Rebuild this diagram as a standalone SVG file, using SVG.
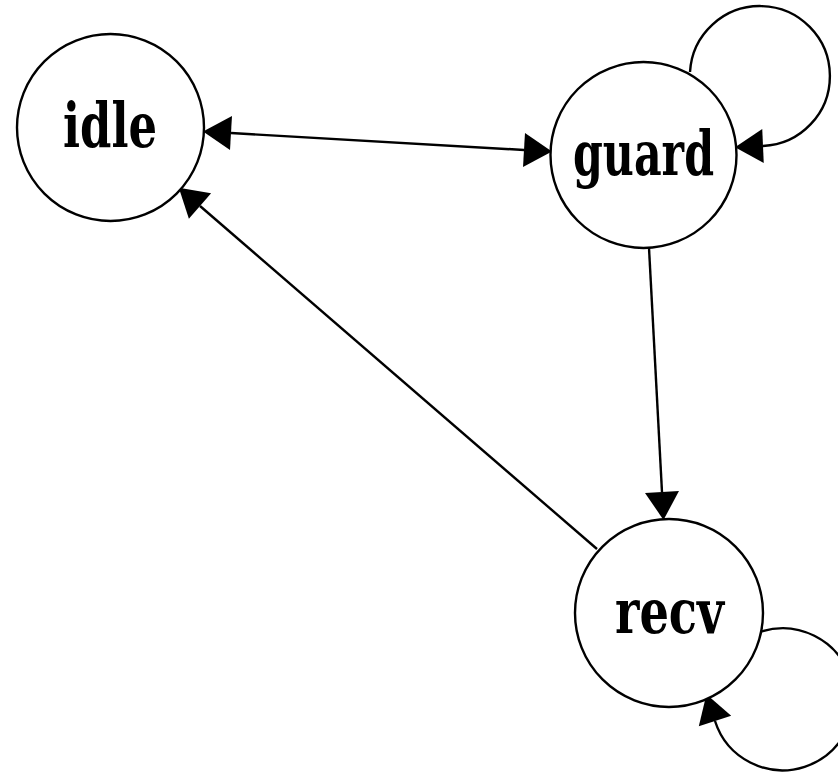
<svg xmlns="http://www.w3.org/2000/svg" width="838" height="772" viewBox="0 0 838 772">
  <style>
    .node circle { fill: #ffffff; stroke: #000000; stroke-width: 2.4; }
    .node text { font-family: "DejaVu Serif", "Liberation Serif", serif; font-weight: bold; font-stretch: condensed; font-size: 61px; fill: #000000; }
    .edge { fill: none; stroke: #000000; stroke-width: 2.4; }
  </style>
  <defs>
    <!-- filled triangular arrowhead; the base sits on the path end -->
    <marker id="head" markerUnits="userSpaceOnUse" viewBox="0 -17 28 34" markerWidth="28" markerHeight="34" refX="0" refY="0" orient="auto" overflow="visible">
      <path d="M0,-17 L28,0 L0,17 z" fill="#000000"/>
    </marker>
    <marker id="tail" markerUnits="userSpaceOnUse" viewBox="-28 -17 28 34" markerWidth="28" markerHeight="34" refX="0" refY="0" orient="auto" overflow="visible">
      <path d="M0,-17 L-28,0 L0,17 z" fill="#000000"/>
    </marker>
  </defs>

  <g id="connectors">
    <!-- idle <-> guard -->
    <path class="edge" d="M231,133 L524,150" marker-start="url(#tail)" marker-end="url(#head)"/>
    <!-- guard -> recv -->
    <path class="edge" d="M649,248 L662,492" marker-end="url(#head)"/>
    <!-- recv -> idle -->
    <path class="edge" d="M597,549 L200,206" marker-end="url(#head)"/>
    <!-- guard self-loop -->
    <path class="edge" d="M690,72 A70,70 0 1,1 763,146" marker-end="url(#head)"/>
    <!-- recv self-loop -->
    <path class="edge" d="M760,632 A71,71 0 1,1 715,721" marker-end="url(#head)"/>
  </g>

  <g id="idle" class="node">
    <circle cx="110.5" cy="127.5" r="93.5"/>
    <text x="63" y="147" textLength="94" lengthAdjust="spacingAndGlyphs">idle</text>
  </g>
  <g id="guard" class="node">
    <circle cx="643.5" cy="155" r="93"/>
    <text x="573" y="175" textLength="141" lengthAdjust="spacingAndGlyphs">guard</text>
  </g>
  <g id="recv" class="node">
    <circle cx="669" cy="613" r="94"/>
    <text x="615" y="633" textLength="109" lengthAdjust="spacingAndGlyphs">recv</text>
  </g>
</svg>
